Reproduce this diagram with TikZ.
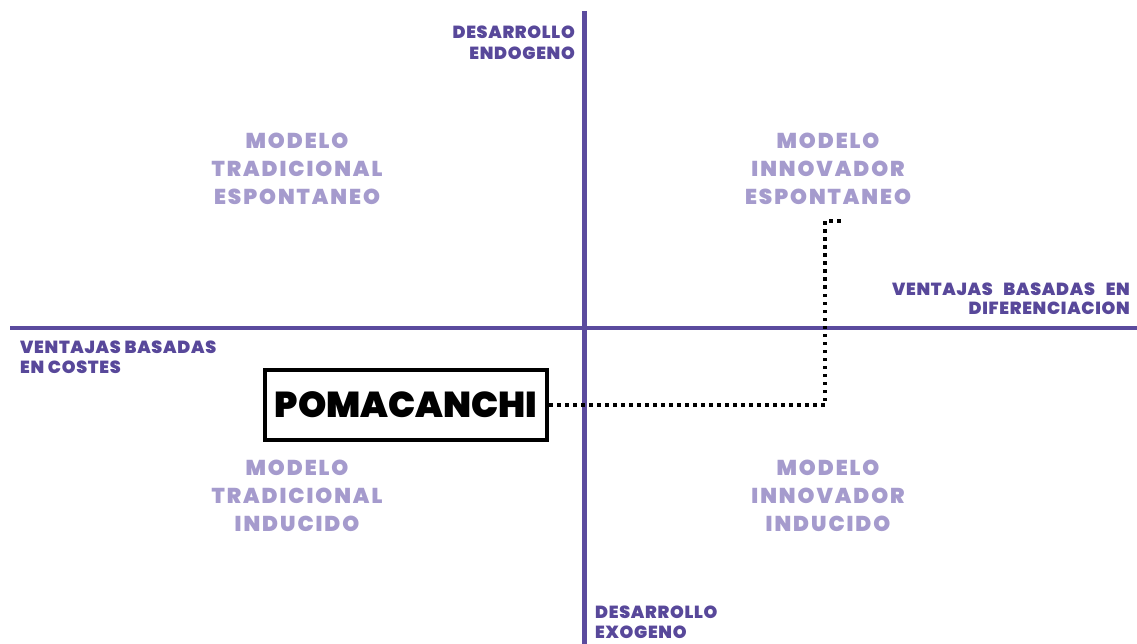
\documentclass[tikz,border=0pt]{standalone}
\usepackage{fontspec}
\newfontfamily\axfont{Poppins}[LetterSpace=4,BoldFont={Poppins Black}]
\newfontfamily\qfont{Poppins}[LetterSpace=9,BoldFont={Poppins Black}]
\newfontfamily\bxfont{Poppins}[BoldFont={Poppins Black}]
\definecolor{axispurple}{HTML}{5B4B9E}
\definecolor{labpurple}{HTML}{58489A}
\definecolor{quadpurple}{HTML}{A59BCD}
\begin{document}
\begin{tikzpicture}[x=1pt,y=-1pt,
  axisline/.style={draw=axispurple,line width=4.5pt},
  axlabel/.style={text=labpurple,inner sep=0pt,font=\axfont\bfseries\fontsize{17.5}{20}\selectfont},
  quadlabel/.style={text=quadpurple,inner sep=0pt,align=center,anchor=base,font=\qfont\bfseries\fontsize{21.5}{28}\selectfont},
  casebox/.style={draw=black,line width=4pt,minimum width=282pt,minimum height=70pt,inner sep=0pt,font=\bxfont\bfseries\fontsize{36}{36}\selectfont},
  dotline/.style={draw=black,line width=3.5pt,dash pattern=on 3.5pt off 4.5pt}
]
\useasboundingbox (0,0) rectangle (1137,644);
% axes
\coordinate (vtop) at (584.5,11);
\coordinate (vbot) at (584.5,644);
\coordinate (hleft) at (10,328);
\coordinate (hright) at (1137,328);
\draw[axisline] (vtop) -- (vbot);
\draw[axisline] (hleft) -- (hright);
% axis labels (anchor base = baseline of the last line)
\node[axlabel,align=right,anchor=base east,font=\axfont\bfseries\fontsize{17.5}{21}\selectfont] (endo) at (575,60) {DESARROLLO\\ENDOGENO};
\node[axlabel,align=left,anchor=base west] (exo) at (595,638) {DESARROLLO\\EXOGENO};
\node[axlabel,align=left,anchor=base west] (costes) at (20,373) {VENTAJAS BASADAS\\EN COSTES};
\node[axlabel,align=right,anchor=base east,font=\axfont\bfseries\fontsize{17.5}{19}\selectfont] (dif) at (1130,314) {VENTAJAS\hspace{7pt} BASADAS\hspace{7pt} EN\hspace{9pt}\\DIFERENCIACION};
% quadrant labels
\node[quadlabel] (tradesp) at (297,205) {MODELO\\TRADICIONAL\\ESPONTANEO};
\node[quadlabel] (innesp) at (828,205) {MODELO\\INNOVADOR\\ESPONTANEO};
\node[quadlabel] (tradind) at (297,531) {MODELO\\TRADICIONAL\\INDUCIDO};
\node[quadlabel] (innind) at (828,531) {MODELO\\INNOVADOR\\INDUCIDO};
% case box
\node[casebox] (pbox) at (406,405) {POMACANCHI};
\coordinate (bend) at (825,221);
\coordinate (dend) at (841,221);
\draw[dotline] (pbox.east) -| (bend) -- (dend);
\end{tikzpicture}
\end{document}
